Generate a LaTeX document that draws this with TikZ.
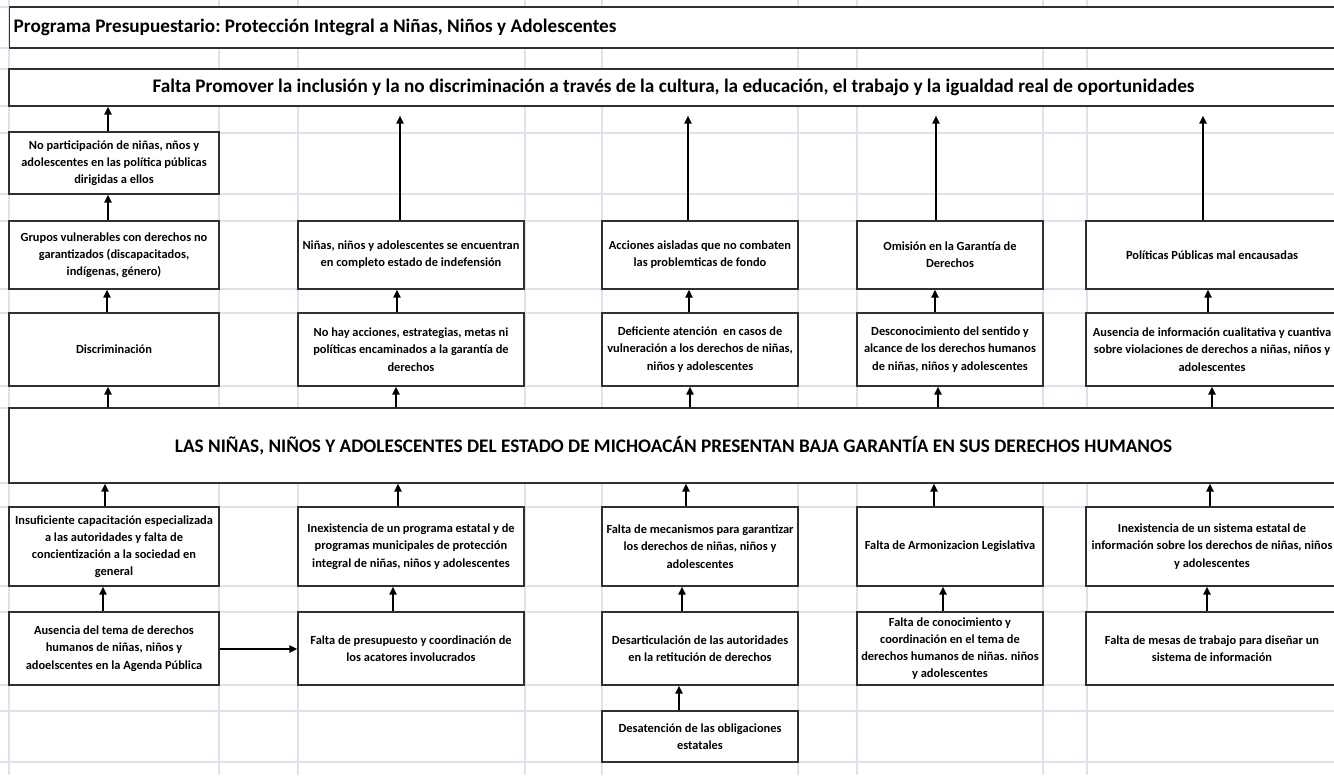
\documentclass[tikz,border=0pt]{standalone}
\usepackage{fontspec}
\setmainfont{Carlito}
\usetikzlibrary{arrows.meta}
\definecolor{gridc}{HTML}{DCE3EC}
\definecolor{boxc}{HTML}{303030}
\tikzset{
  gridline/.style={draw=gridc, line width=0.8pt},
  box/.style={draw=boxc, line width=1.1pt, fill=white, inner sep=0pt, align=center,
              font=\frenchspacing\bfseries\fontsize{9.3}{12.9}\selectfont},
  bigbox/.style={box, font=\frenchspacing\bfseries\fontsize{14.4}{17}\selectfont},
  arr/.style={draw=black, line width=1.6pt, -{Triangle[length=6pt,width=5.5pt]}},
  colA/.style={minimum width=157.5pt},
  colB/.style={minimum width=169.5pt},
  colC/.style={minimum width=147pt},
  colD/.style={minimum width=139.5pt},
  colE/.style={minimum width=189pt},
  rowA/.style={minimum height=46.5pt},
  rowB/.style={minimum height=51pt},
  rowC/.style={minimum height=54.75pt},
  rowD/.style={minimum height=59.25pt},
  rowE/.style={minimum height=54.75pt},
  rowF/.style={minimum height=38.25pt},
}
\newcommand\uparr[4][]{\draw[arr,#1] (#2.north -| #4,0) -- (#3.south -| #4,0);}
\begin{document}
\frenchspacing
\begin{tikzpicture}[x=0.75pt,y=-0.75pt]
\useasboundingbox (0,0) rectangle (1334,775);
\clip (0,0) rectangle (1334,775);
\fill[white] (0,0) rectangle (1334,775);
% spreadsheet grid
\foreach \gx in {9,219,298,525,602,798,857,1043,1087}
  \draw[gridline] (\gx,0) -- (\gx,775);
\foreach \gy in {7,48,69,106,133,194,221,289,313,386,408,483,507,586,612,685,711,762}
  \draw[gridline] (0,\gy) -- (1334,\gy);

% headers
\node[bigbox, minimum width=996.75pt, minimum height=30.75pt, anchor=west]
  (title) at (9,27.5) {\makebox[990.75pt][l]{Programa Presupuestario: Protección Integral a Niñas, Niños y Adolescentes}};
\node[bigbox, minimum width=996.75pt, minimum height=27.75pt] (falta) at (673.5,87.5)
  {Falta Promover la inclusión y la no discriminación a través de la cultura, la educación, el trabajo y la igualdad real de oportunidades};
\node[bigbox, minimum width=996.75pt, minimum height=56.25pt] (prob) at (673.5,445.5)
  {LAS NIÑAS, NIÑOS Y ADOLESCENTES DEL ESTADO DE MICHOACÁN PRESENTAN BAJA GARANTÍA EN SUS DERECHOS HUMANOS};

% effects (upper part)
\node[box, colA, rowA] (c1a) at (114,163) {No participación de niñas, nños y\\adolescentes en las política públicas\\dirigidas a ellos};
\node[box, colA, rowB] (c1b) at (114,255) {Grupos vulnerables con derechos no\\garantizados (discapacitados,\\indígenas, género)};
\node[box, colA, rowC] (c1c) at (114,349.5) {Discriminación};

\node[box, colB, rowB] (c2b) at (411,255) {Niñas, niños y adolescentes se encuentran\\en completo estado de indefensión};
\node[box, colB, rowC] (c2c) at (411,349.5) {No hay acciones, estrategias, metas ni\\políticas encaminados a la garantía de\\derechos};

\node[box, colC, rowB] (c3b) at (700,255) {Acciones aisladas que no combaten\\las problemticas de fondo};
\node[box, colC, rowC] (c3c) at (700,349.5) {Deficiente atención\ \ en casos de\\vulneración a los derechos de niñas,\\niños y adolescentes};

\node[box, colD, rowB] (c4b) at (950,255) {Omisión en la Garantía de\\Derechos};
\node[box, colD, rowC] (c4c) at (950,349.5) {Desconocimiento del sentido y\\alcance de los derechos humanos\\de niñas, niños y adolescentes};

\node[box, colE, rowB] (c5b) at (1212,255) {Políticas Públicas mal encausadas};
\node[box, colE, rowC] (c5c) at (1212,349.5) {Ausencia de información cualitativa y cuantiva\\sobre violaciones de derechos a niñas, niños y\\adolescentes};

% causes (lower part)
\node[box, colA, rowD] (b1a) at (114,546.5) {Insuficiente capacitación especializada\\a las autoridades y falta de\\concientización a la sociedad en\\general};
\node[box, colA, rowE] (b1b) at (114,648.5) {Ausencia del tema de derechos\\humanos de niñas, niños y\\adoelscentes en la Agenda Pública};

\node[box, colB, rowD] (b2a) at (411,546.5) {Inexistencia de un programa estatal y de\\programas municipales de protección\\integral de niñas, niños y adolescentes};
\node[box, colB, rowE] (b2b) at (411,648.5) {Falta de presupuesto y coordinación de\\los acatores involucrados};

\node[box, colC, rowD] (b3a) at (700,546.5) {Falta de mecanismos para garantizar\\los derechos de niñas, niños y\\adolescentes};
\node[box, colC, rowE] (b3b) at (700,648.5) {Desarticulación de las autoridades\\en la retitución de derechos};
\node[box, colC, rowF] (b3c) at (700,736.5) {Desatención de las obligaciones\\estatales};

\node[box, colD, rowD] (b4a) at (950,546.5) {Falta de Armonizacion Legislativa};
\node[box, colD, rowE] (b4b) at (950,648.5) {Falta de conocimiento y\\coordinación en el tema de\\derechos humanos de niñas. niños\\y adolescentes};

\node[box, colE, rowD] (b5a) at (1212,546.5) {Inexistencia de un sistema estatal de\\información sobre los derechos de niñas, niños\\y adolescentes};
\node[box, colE, rowE] (b5b) at (1212,648.5) {Falta de mesas de trabajo para diseñar un\\sistema de información};

% arrows, upper part
\uparr{c1a}{falta}{108}
\uparr{c1b}{c1a}{108}
\uparr{c1c}{c1b}{107}
\uparr{prob}{c1c}{108}
\uparr[shorten >=6.75pt]{c2b}{falta}{400}
\uparr{c2c}{c2b}{397}
\uparr{prob}{c2c}{396}
\uparr[shorten >=6.75pt]{c3b}{falta}{688}
\uparr{c3c}{c3b}{689}
\uparr{prob}{c3c}{690}
\uparr[shorten >=6.75pt]{c4b}{falta}{936}
\uparr{c4c}{c4b}{935}
\uparr{prob}{c4c}{938}
\uparr[shorten >=6.75pt]{c5b}{falta}{1203}
\uparr{c5c}{c5b}{1208}
\uparr{prob}{c5c}{1212}

% arrows, lower part
\uparr{b1a}{prob}{105}
\uparr{b1b}{b1a}{103}
\uparr{b2a}{prob}{398}
\uparr{b2b}{b2a}{393}
\uparr{b3a}{prob}{686}
\uparr{b3b}{b3a}{682}
\uparr{b3c}{b3b}{679}
\uparr{b4a}{prob}{934}
\uparr{b4b}{b4a}{943}
\uparr{b5a}{prob}{1210}
\uparr{b5b}{b5a}{1207}
\draw[arr] (b1b.east |- 0,649) -- (b2b.west |- 0,649);
\end{tikzpicture}
\end{document}
